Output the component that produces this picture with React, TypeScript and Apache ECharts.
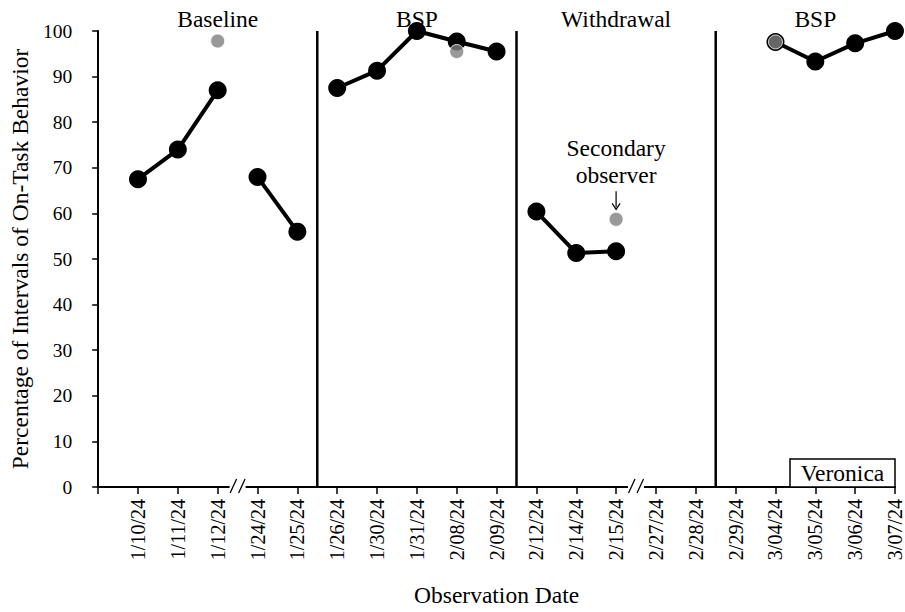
import React, { useEffect, useRef } from "react";
import * as echarts from "echarts";

const categories = ["", "1/10/24", "1/11/24", "1/12/24", "1/24/24", "1/25/24", "1/26/24", "1/30/24", "1/31/24", "2/08/24", "2/09/24", "2/12/24", "2/14/24", "2/15/24", "2/27/24", "2/28/24", "2/29/24", "3/04/24", "3/05/24", "3/06/24", "3/07/24"];
const primaryValues: (number | null)[] = [null, 67.5, 74, 87, 68, 56, 87.5, 91.3, 100, 97.7, 95.5, 60.4, 51.3, 51.7, null, null, null, 97.6, 93.3, 97.3, 100];
const secondaryValues: (number | null)[] = [null, null, null, 97.8, null, null, null, null, null, 95.5, null, null, null, 58.7, null, null, null, 97.6, null, null, null];
const segmentRanges = [[1, 3], [4, 5], [6, 10], [11, 13], [17, 20]];
const phaseLabels = ["Baseline", "BSP", "Withdrawal", "BSP"];
const phaseLabelAt = ["1/12/24", "1/31/24", "2/15/24", "3/05/24"];
const phaseChangesAfter = ["1/25/24", "2/09/24", "2/28/24"];
const axisBreaksAfter = ["1/12/24", "2/15/24"];
const annotationAt = "2/15/24";
const participant = "Veronica";

const FONT = "Liberation Serif";
const BIG = 23.5;

export default function App() {
  const ref = useRef<HTMLDivElement>(null);
  useEffect(() => {
    if (!ref.current) return;
    const chart = echarts.init(ref.current, null, { renderer: "svg" });
    const lineSeries = segmentRanges.map(([a, b]) => ({
      type: "line",
      data: categories.map((_, i) => (i >= a && i <= b && primaryValues[i] != null ? primaryValues[i] : "-")),
      symbol: "circle",
      symbolSize: 18,
      connectNulls: false,
      itemStyle: { color: "#000" },
      lineStyle: { color: "#000", width: 4 },
      z: 3,
    }));
    const option: any = {
      animation: false,
      grid: { left: 94, right: 7, top: 31, bottom: 121, containLabel: false },
      xAxis: {
        type: "category",
        data: categories,
        boundaryGap: false,
        name: "Observation Date",
        nameLocation: "middle",
        nameGap: 96,
        nameTextStyle: { fontFamily: FONT, fontSize: BIG, color: "#000" },
        axisLine: { lineStyle: { color: "#000", width: 2 } },
        axisTick: { show: true, length: 7, interval: 0, lineStyle: { color: "#000", width: 1.5 } },
        axisLabel: { rotate: 90, interval: 0, fontFamily: FONT, fontSize: 20, color: "#000", margin: 12 },
        splitLine: { show: false },
      },
      yAxis: {
        type: "value",
        min: 0,
        max: 100,
        interval: 10,
        name: "Percentage of Intervals of On-Task Behavior",
        nameLocation: "middle",
        nameGap: 62,
        nameTextStyle: { fontFamily: FONT, fontSize: BIG, color: "#000" },
        axisLine: { show: true, lineStyle: { color: "#000", width: 2 } },
        axisTick: { show: true, length: 6, lineStyle: { color: "#000", width: 1.5 } },
        axisLabel: { fontFamily: FONT, fontSize: 19.5, color: "#000", margin: 26 },
        splitLine: { show: false },
      },
      series: [
        ...lineSeries,
        {
          type: "scatter",
          data: secondaryValues.map((v) => (v == null ? "-" : v)),
          symbol: "circle",
          symbolSize: 14,
          itemStyle: { color: "#808080", borderColor: "#fff", borderWidth: 1 },
          z: 5,
        },
      ],
    };
    chart.setOption(option);

    const px = (c: string | number) => chart.convertToPixel({ xAxisIndex: 0 }, c) as number;
    const py = (v: number) => chart.convertToPixel({ yAxisIndex: 0 }, v) as number;
    const idx = (c: string) => categories.indexOf(c);
    const midAfter = (c: string) => (px(idx(c)) + px(idx(c) + 1)) / 2;
    const yTop = py(100);
    const yBot = py(0);
    const graphics: any[] = [];
    phaseChangesAfter.forEach((c) => {
      const x = midAfter(c);
      graphics.push({ type: "line", shape: { x1: x, y1: yTop, x2: x, y2: yBot }, style: { stroke: "#000", lineWidth: 2.5 }, z: 2 });
    });
    phaseLabels.forEach((t, i) => {
      graphics.push({
        type: "text",
        x: px(phaseLabelAt[i]),
        y: 19,
        style: { text: t, fontFamily: FONT, fontSize: BIG, fill: "#000", align: "center", verticalAlign: "middle" },
        z: 10,
      });
    });
    axisBreaksAfter.forEach((c) => {
      const x = midAfter(c);
      graphics.push({ type: "rect", shape: { x: x - 8, y: yBot - 3, width: 16, height: 6 }, style: { fill: "#fff" }, z: 20 });
      graphics.push({ type: "line", shape: { x1: x - 7.5, y1: yBot + 6, x2: x - 1, y2: yBot - 8 }, style: { stroke: "#000", lineWidth: 1.3 }, z: 21 });
      graphics.push({ type: "line", shape: { x1: x + 1, y1: yBot + 6, x2: x + 7.5, y2: yBot - 8 }, style: { stroke: "#000", lineWidth: 1.3 }, z: 21 });
    });
    // Secondary observer annotation
    const ax = px(annotationAt);
    const ay = py(secondaryValues[idx(annotationAt)] as number);
    graphics.push({
      type: "text",
      x: ax,
      y: ay - 71,
      style: { text: "Secondary", fontFamily: FONT, fontSize: BIG, fill: "#000", align: "center", verticalAlign: "middle" },
    });
    graphics.push({
      type: "text",
      x: ax,
      y: ay - 44,
      style: { text: "observer", fontFamily: FONT, fontSize: BIG, fill: "#000", align: "center", verticalAlign: "middle" },
    });
    graphics.push({ type: "line", shape: { x1: ax, y1: ay - 28, x2: ax, y2: ay - 12 }, style: { stroke: "#000", lineWidth: 1.2 } });
    graphics.push({ type: "polyline", shape: { points: [[ax - 4, ay - 16], [ax, ay - 10], [ax + 4, ay - 16]] }, style: { stroke: "#000", lineWidth: 1.2, fill: null } });
    // Participant box
    const boxRight = px(categories.length - 1);
    graphics.push({ type: "rect", shape: { x: boxRight - 105, y: yBot - 28, width: 105, height: 28 }, style: { fill: "#fff", stroke: "#000", lineWidth: 1.5 }, z: 15 });
    graphics.push({
      type: "text",
      x: boxRight - 52.5,
      y: yBot - 14,
      style: { text: participant, fontFamily: FONT, fontSize: BIG, fill: "#000", align: "center", verticalAlign: "middle" },
      z: 16,
    });
    chart.setOption({ graphic: graphics });
    return () => chart.dispose();
  }, []);
  return <div ref={ref} style={{ width: 905, height: 612, position: "absolute", left: 0, top: 0 }} />;
}
